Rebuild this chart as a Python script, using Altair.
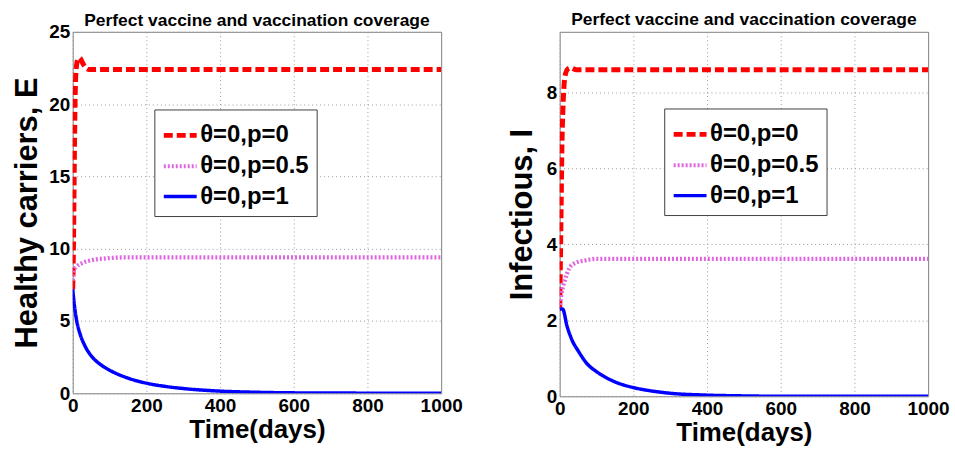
import altair as alt
import pandas as pd

FONT = "Liberation Sans"
TITLE = "Perfect vaccine and vaccination coverage"

series = ["θ=0,p=0", "θ=0,p=0.5", "θ=0,p=1"]
colors = ["#ff0000", "#e066e0", "#0000ff"]
dashes = [[9, 4], [2, 2], [1, 0]]
widths = [5, 3.5, 4]

x_ticks = [0, 200, 400, 600, 800, 1000]

# Healthy carriers E
tE_p0 = [0, 2, 4, 6, 9, 14, 19, 26, 34, 45, 100, 300, 600, 1000]
E_p0 = [7.2, 10, 15, 19.5, 22.3, 23.1, 23.2, 22.9, 22.55, 22.4, 22.4, 22.4, 22.4, 22.4]
tE_p05 = [0, 3, 10, 25, 50, 100, 150, 300, 600, 1000]
E_p05 = [7.8, 8.5, 8.75, 9.0, 9.2, 9.35, 9.4, 9.4, 9.4, 9.4]
tE_p1 = [0, 5, 11, 20, 30, 50, 75, 100, 150, 200, 250, 300, 400, 500, 600, 800, 1000]
E_p1 = [7.2, 6.0, 5.0, 4.1, 3.45, 2.6, 2.0, 1.6, 1.05, 0.7, 0.48, 0.33, 0.15, 0.07, 0.03, 0.01, 0.0]

# Infectious I
tI_p0 = [0, 2, 4, 6, 9, 12, 16, 22, 30, 45, 100, 300, 600, 1000]
I_p0 = [2.3, 3.5, 5.0, 6.5, 7.6, 8.2, 8.5, 8.62, 8.65, 8.6, 8.6, 8.6, 8.6, 8.6]
tI_p05 = [0, 5, 14, 25, 40, 70, 100, 150, 300, 600, 1000]
I_p05 = [2.3, 2.7, 3.05, 3.35, 3.5, 3.58, 3.62, 3.62, 3.62, 3.62, 3.62]
tI_p1 = [0, 8, 20, 35, 50, 75, 100, 150, 200, 250, 300, 400, 500, 600, 800, 1000]
I_p1 = [2.3, 2.3, 1.85, 1.45, 1.2, 0.85, 0.65, 0.38, 0.23, 0.14, 0.08, 0.03, 0.01, 0.0, 0.0, 0.0]


def frame(parts):
    rows = []
    for name, ts, vs in parts:
        for t, v in zip(ts, vs):
            rows.append({"t": t, "v": v, "s": name})
    return pd.DataFrame(rows)


dfE = frame([(series[0], tE_p0, E_p0), (series[1], tE_p05, E_p05), (series[2], tE_p1, E_p1)])
dfI = frame([(series[0], tI_p0, I_p0), (series[1], tI_p05, I_p05), (series[2], tI_p1, I_p1)])


def panel(df, ytitle, ymax, yticks, height, lx, ly, toff, ytpad):
    leg = alt.Legend(
        title=None, orient="none", legendX=lx, legendY=ly,
        strokeColor="#404040", fillColor="white", padding=7,
        symbolType="stroke", symbolSize=1089, symbolStrokeWidth=4,
        labelFont=FONT, labelFontSize=24, labelFontWeight="bold", labelColor="black",
        labelOffset=1, rowPadding=0, labelLimit=400,
    )
    return alt.Chart(df).mark_line(interpolate="monotone", clip=True).encode(
        x=alt.X("t:Q", scale=alt.Scale(domain=[0, 1000], nice=False),
                axis=alt.Axis(values=x_ticks, format="d", title="Time(days)", titleFontSize=26,
                              titlePadding=1, labelPadding=3, labelFlush=False)),
        y=alt.Y("v:Q", scale=alt.Scale(domain=[0, ymax], nice=False),
                axis=alt.Axis(values=yticks, title=ytitle, titleFontSize=31,
                              titlePadding=ytpad, labelPadding=3, labelFlush=False)),
        color=alt.Color("s:N", scale=alt.Scale(domain=series, range=colors), legend=leg),
        strokeDash=alt.StrokeDash("s:N", scale=alt.Scale(domain=series, range=dashes), legend=leg),
        strokeWidth=alt.StrokeWidth("s:N", scale=alt.Scale(domain=series, range=widths), legend=None),
    ).properties(
        width=370, height=height,
        title=alt.TitleParams(text=TITLE, font=FONT, fontSize=17.5, fontWeight="bold",
                              anchor="middle", offset=toff, color="black"),
    )


left = panel(dfE, "Healthy carriers, E", 25, [0, 5, 10, 15, 20, 25], 363, 82, 78, -7, 5)
right = panel(dfI, "Infectious, I", 9.6, [0, 2, 4, 6, 8], 366, 105, 77, 3, 8)

chart = alt.hconcat(left, right, spacing=119, bounds="flush").resolve_scale(
    color="independent", strokeDash="independent", strokeWidth="independent"
).resolve_legend(color="independent", strokeDash="independent").properties(
    padding={"left": 11, "top": 10, "right": 5, "bottom": 2},
    background="white",
).configure_view(
    stroke="#808080", strokeWidth=1
).configure_axis(
    labelFont=FONT, labelFontSize=19, labelFontWeight="bold", labelColor="black",
    titleFont=FONT, titleFontWeight="bold", titleColor="black",
    domain=False, ticks=False,
    grid=True, gridColor="#9a9a9a", gridDash=[1, 3], gridWidth=1,
)

chart.save("out.html", embed_options={"renderer": "svg", "actions": False})
